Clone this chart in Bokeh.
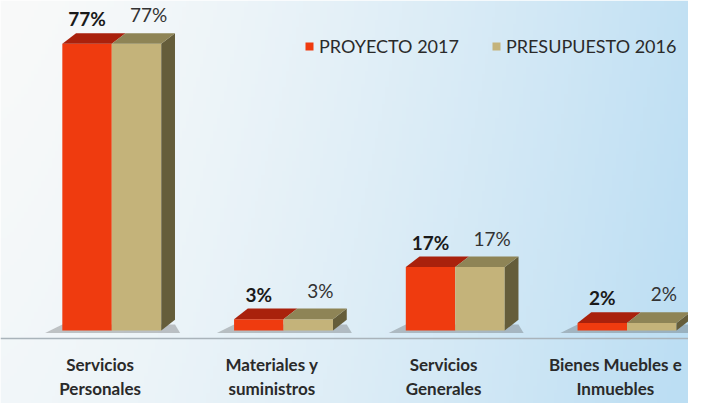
import numpy as np
from bokeh.plotting import figure
from bokeh.models import Range1d, FixedTicker, Legend, LegendItem
from bokeh.core.properties import value
from bokeh.embed import file_html
from bokeh.resources import INLINE

# ---- data ----
categories = ["Servicios\nPersonales", "Materiales y\nsuministros",
              "Servicios\nGenerales", "Bienes Muebles e\nInmuebles"]
proyecto_2017 = [77, 3, 17, 2]
presupuesto_2016 = [77, 3, 17, 2]
series_names = ["PROYECTO 2017", "PRESUPUESTO 2016"]

# ---- style ----
W, H = 688, 403
FONT = "Lato"
RED, RED_TOP = "#ef3b0f", "#a9210c"
TAN, TAN_TOP, TAN_SIDE = "#c4b37a", "#8e8456", "#655d3a"
bw = 0.288           # bar width (category units)
dx, dy = 0.08, 2.85  # 3D depth offsets
shift = 0.068        # perspective shift of the bar pair
X0, X1 = -0.58, 3.426
Y0, Y1 = -19.64, 88.63

p = figure(width=W, height=H, output_backend="svg", toolbar_location=None,
           x_range=Range1d(X0, X1), y_range=Range1d(Y0, Y1),
           y_axis_type=None, min_border=0, outline_line_color=None)
p.grid.visible = False

# background gradient
nx, ny = 200, 120
xs = np.linspace(0, 1, nx)[None, :]
ys = np.linspace(0, 1, ny)[:, None]  # 0 = bottom
t = np.clip(0.9 * xs ** 1.4 + 0.12 * (1 - ys), 0, 1)
c0 = np.array([249, 250, 250]); c1 = np.array([188, 222, 243])
img = np.zeros((ny, nx), dtype=np.uint32)
v = img.view(dtype=np.uint8).reshape((ny, nx, 4))
for k in range(3):
    v[:, :, k] = (c0[k] + (c1[k] - c0[k]) * t).astype(np.uint8)
v[:, :, 3] = 255
p.image_rgba(image=[img], x=X0, y=Y0, dw=X1 - X0, dh=Y1 - Y0)

n = len(categories)
cx = list(range(n))
bc = [c + shift for c in cx]   # boundary between the two bars

# floor shadows
sh_x, sh_y = [], []
for i in range(n):
    c = bc[i]
    sh_x.append([c - bw - 0.1, c + bw + dx + 0.03, c + bw + dx, c - bw])
    sh_y.append([-0.7, -0.7, 1.6, 1.6])
p.patches(sh_x, sh_y, fill_color="#4a4a4a", fill_alpha=0.3, line_color=None)

# front faces
r_red = p.quad(left=[c - bw for c in bc], right=bc, bottom=0, top=proyecto_2017,
               fill_color=RED, line_color=None)
r_tan = p.quad(left=bc, right=[c + bw for c in bc], bottom=0, top=presupuesto_2016,
               fill_color=TAN, line_color=None)

# top faces & side face
def top_face(l, r, h):
    return [l, r, r + dx, l + dx], [h, h, h + dy, h + dy]

rx, ry, tx, ty, sx, sy = [], [], [], [], [], []
for i in range(n):
    c = bc[i]
    a, b = top_face(c - bw, c, proyecto_2017[i]); rx.append(a); ry.append(b)
    a, b = top_face(c, c + bw, presupuesto_2016[i]); tx.append(a); ty.append(b)
    h = presupuesto_2016[i]
    sx.append([c + bw, c + bw + dx, c + bw + dx, c + bw])
    sy.append([0, dy, h + dy, h])
p.patches(sx, sy, fill_color=TAN_SIDE, line_color=None)
p.patches(rx, ry, fill_color=RED_TOP, line_color=None)
p.patches(tx, ty, fill_color=TAN_TOP, line_color=None)

# value labels
p.text(x=[c - bw / 2 for c in bc], y=[v_ + dy for v_ in proyecto_2017],
       text=[f"{v_}%" for v_ in proyecto_2017], text_font=value(FONT),
       text_font_style="bold", text_font_size="19px", text_color="#1a1a1a",
       text_align="center", text_baseline="bottom", y_offset=-3)
p.text(x=[c + bw / 2 + 0.07 for c in bc], y=[v_ + dy for v_ in presupuesto_2016],
       text=[f"{v_}%" for v_ in presupuesto_2016], text_font=value(FONT),
       text_font_size="19px", text_color="#333333",
       text_align="center", text_baseline="bottom", y_offset=-7)

# x axis (floor line + category labels)
ax = p.xaxis[0]
ax.ticker = FixedTicker(ticks=cx)
ax.major_label_overrides = {c: categories[i] for i, c in enumerate(cx)}
ax.fixed_location = -2.07
ax.axis_line_color = "#a9b3ba"
ax.axis_line_width = 1.5
ax.major_tick_line_color = None
ax.minor_tick_line_color = None
ax.major_label_text_font = FONT
ax.major_label_text_font_style = "bold"
ax.major_label_text_font_size = "17px"
ax.major_label_text_color = "#2a2a2a"
ax.major_label_text_line_height = 1.15
ax.major_label_standoff = 10

legend = Legend(items=[LegendItem(label=series_names[0], renderers=[r_red]),
                       LegendItem(label=series_names[1], renderers=[r_tan])],
                orientation="horizontal", location=(304, 346),
                background_fill_alpha=0, border_line_alpha=0,
                label_text_font=FONT, label_text_font_size="18px",
                label_text_color="#2a2a2a", glyph_width=10, glyph_height=10,
                spacing=32, padding=0, margin=0, label_standoff=5)
p.add_layout(legend)

open("out.html", "w").write(file_html(p, INLINE))
